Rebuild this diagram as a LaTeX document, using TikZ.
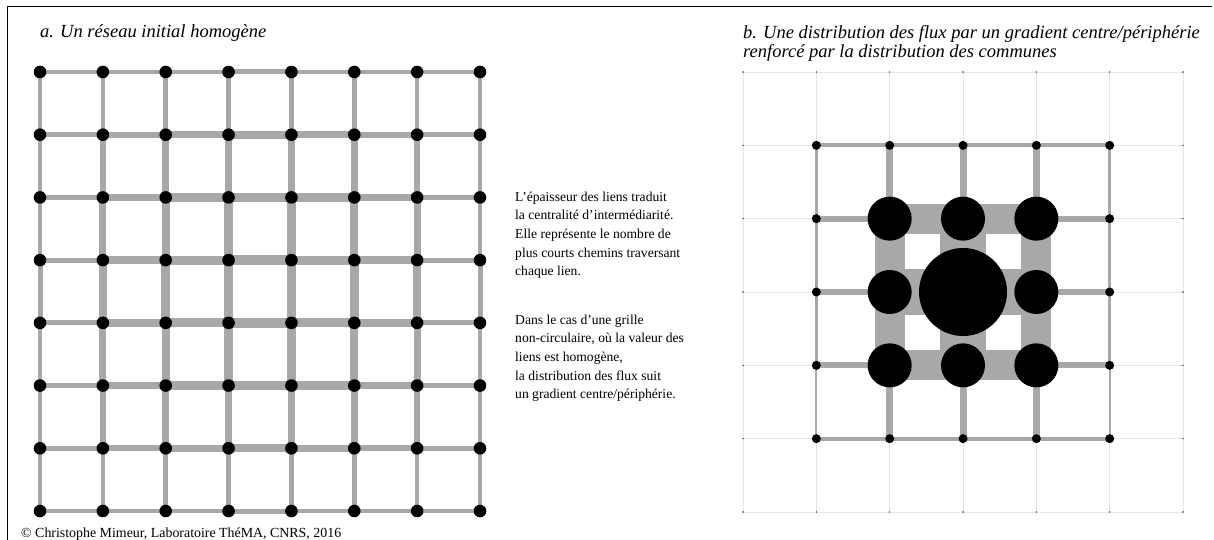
\documentclass[tikz,border=0pt]{standalone}
\usepackage{fontspec}
\setmainfont{Liberation Serif}
\definecolor{edgegray}{HTML}{A8A8A8}
\definecolor{gridlight}{HTML}{E6E6E6}
\pgfdeclarelayer{gridlayer}
\pgfdeclarelayer{linklayer}
\pgfsetlayers{gridlayer,linklayer,main}
\begin{document}
\begin{tikzpicture}[x=1pt,y=-1pt,
  lnode/.style={circle,fill=black,inner sep=0pt,minimum size=12.6pt},
  snode/.style={circle,fill=black,inner sep=0pt,minimum size=9pt},
  mnode/.style={circle,fill=black,inner sep=0pt,minimum size=44pt},
  bignode/.style={circle,fill=black,inner sep=0pt,minimum size=88pt},
  tickdot/.style={circle,fill=black!80,inner sep=0pt,minimum size=1.6pt},
  link/.style={draw=edgegray,line width=#1},
  faint/.style={draw=gridlight,line width=0.8pt},
  titletext/.style={inner sep=0pt,anchor=base west,font=\fontsize{18.5}{20}\selectfont\itshape},
  bodytext/.style={inner sep=0pt,anchor=north west,align=left,font=\fontsize{13.6}{18.7}\selectfont},
  frameline/.style={draw=black,line width=1.2pt}]
\useasboundingbox (0,0) rectangle (1214,540);

% frame
\coordinate (fa) at (7.3,540);
\coordinate (fb) at (7.3,6.7);
\coordinate (fc) at (1212,6.7);
\draw[frameline] (fa) -- (fb) -- (fc);

% titles
\node[titletext] (ta) at (40,37.5) {a. Un réseau initial homogène};
\node[titletext] (tb1) at (743,38.5) {b. Une distribution des flux par un gradient centre/périphérie};
\node[titletext] (tb2) at (743,57.5) {renforcé par la distribution des communes};

% left panel: homogeneous grid
\foreach \i in {0,...,7}{\foreach \j in {0,...,7}{
  \node[lnode] (a\i-\j) at ({40+62.857*\i},{72+62.714*\j}) {};
}}
\begin{pgfonlayer}{linklayer}
\foreach \i in {0,...,6}{\foreach \j in {0,...,7}{
  \pgfmathtruncatemacro\ni{\i+1}
  \pgfmathsetmacro\rr{{0.4,0.75,0.9,1,1,0.9,0.75,0.4}[\j]}
  \pgfmathsetlengthmacro\wh{(2+7.5*(\i+1)*(7-\i)/16*\rr)*1pt}
  \draw[link=\wh] (a\i-\j.center) -- (a\ni-\j.center);
  \draw[link=\wh] (a\j-\i.center) -- (a\j-\ni.center);
}}
\end{pgfonlayer}

% explanation text
\node[bodytext] (p1) at (515,191.5) {L’épaisseur des liens traduit\\la centralité d’intermédiarité.\\Elle représente le nombre de\\plus courts chemins traversant\\chaque lien.};
\node[bodytext] (p2) at (515,314.5) {Dans le cas d’une grille\\non-circulaire, où la valeur des\\liens est homogène,\\la distribution des flux suit\\un gradient centre/périphérie.};

% right panel: faint background grid
\foreach \i in {0,...,6}{\foreach \j in {0,...,6}{
  \coordinate (g\i-\j) at ({743+73.333*\i},{72+73.333*\j});
}}
\begin{pgfonlayer}{gridlayer}
\foreach \k in {0,...,6}{
  \draw[faint] (g0-\k) -- (g6-\k);
  \draw[faint] (g\k-0) -- (g\k-6);
}
\foreach \i in {0,...,6}{\foreach \j in {0,...,6}{
  \node[tickdot] (t\i-\j) at (g\i-\j) {};
}}
\end{pgfonlayer}

% right panel: network nodes
\foreach \c in {1,...,5}{\foreach \r in {1,...,5}{
  \pgfmathtruncatemacro\kind{(\c>1)*(\c<5)*(\r>1)*(\r<5)+(\c==3)*(\r==3)}
  \ifcase\kind
    \node[snode] (b\c-\r) at (g\c-\r) {};
  \or
    \node[mnode] (b\c-\r) at (g\c-\r) {};
  \or
    \node[bignode] (b\c-\r) at (g\c-\r) {};
  \fi
}}
\begin{pgfonlayer}{linklayer}
% horizontal links
\foreach \c/\r/\w in {1/1/4,2/1/4,3/1/4,4/1/4, 1/5/4,2/5/4,3/5/4,4/5/4,
  1/2/6,2/2/30,3/2/30,4/2/6, 1/3/6,2/3/46,3/3/46,4/3/6, 1/4/6,2/4/30,3/4/30,4/4/6}{
  \pgfmathtruncatemacro\cc{\c+1}
  \draw[link=\w pt] (b\c-\r.center) -- (b\cc-\r.center);
}
% vertical links
\foreach \c/\r/\w in {1/1/3,1/2/3,1/3/3,1/4/2, 5/1/3,5/2/3,5/3/3,5/4/2,
  2/1/7,2/2/30,2/3/30,2/4/7, 4/1/7,4/2/30,4/3/30,4/4/7, 3/1/7,3/2/46,3/3/46,3/4/7}{
  \pgfmathtruncatemacro\rn{\r+1}
  \draw[link=\w pt] (b\c-\r.center) -- (b\c-\rn.center);
}
\end{pgfonlayer}

% credit
\node[inner sep=0pt,anchor=base west,font=\fontsize{13.9}{16}\selectfont] (cr) at (21,537.5) {© Christophe Mimeur, Laboratoire ThéMA, CNRS, 2016};
\end{tikzpicture}
\end{document}
